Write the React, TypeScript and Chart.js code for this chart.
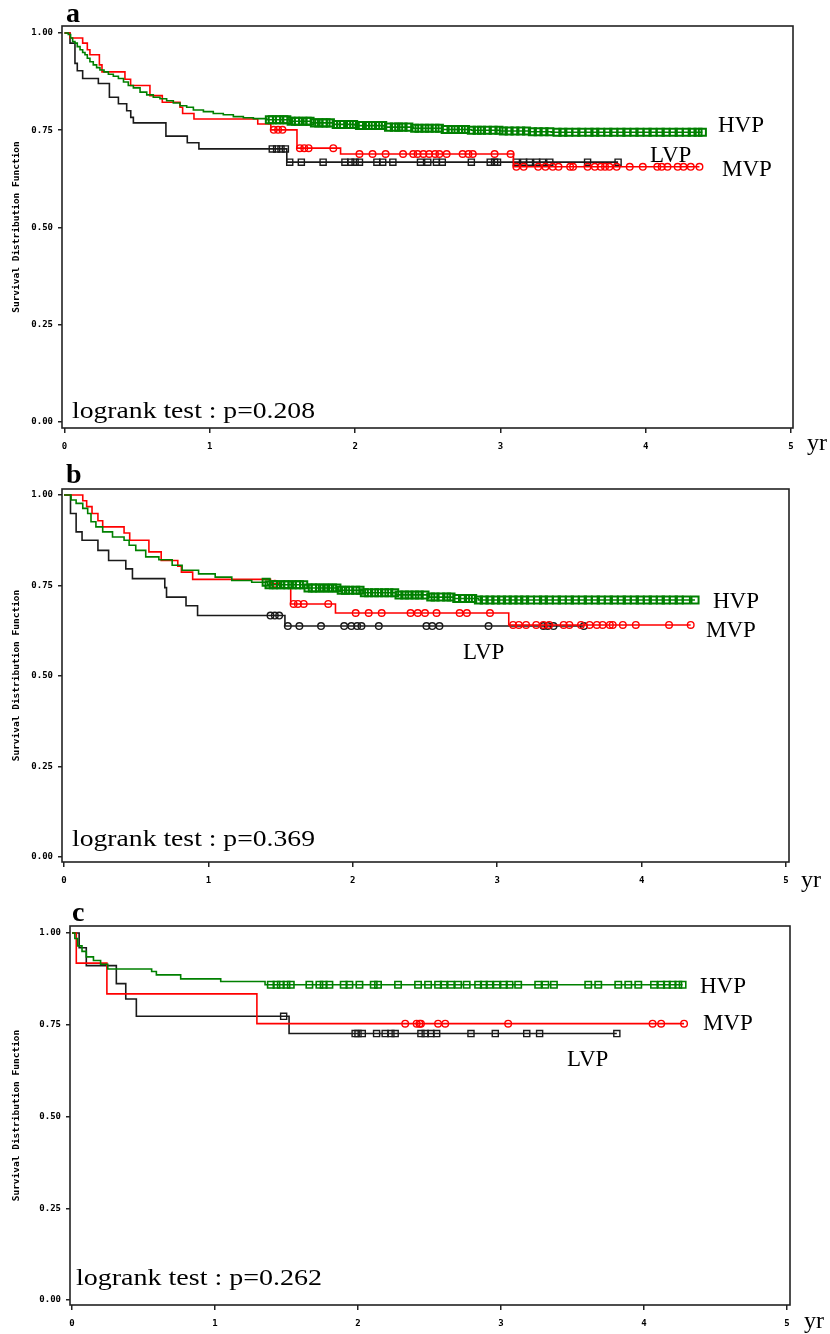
import React, { useEffect, useRef } from 'react';
import { Chart, registerables } from 'chart.js';
Chart.register(...registerables);

// ---------- shared axis data ----------
const X_TICKS = [0, 1, 2, 3, 4, 5];
const Y_TICKS = [0, 0.25, 0.5, 0.75, 1];
const Y_TITLE = 'Survival Distribution Function';
const X_UNIT = 'yr';
const TEST_LABEL = 'logrank test : p=';

// ---------- panel a ----------
const A_HVP_T = [0, 0.026, 0.042, 0.056, 0.072, 0.088, 0.107, 0.125, 0.141, 0.157, 0.175, 0.198, 0.221, 0.244, 0.272, 0.302, 0.336, 0.371, 0.406, 0.439, 0.474, 0.52, 0.566, 0.611, 0.657, 0.703, 0.749, 0.795, 0.841, 0.887, 0.956, 1.024, 1.093, 1.162, 1.231, 1.3, 1.392, 1.55, 1.7, 1.85, 2.0, 2.2, 2.4, 2.6, 2.8, 3.0, 3.2, 3.35, 4.39];
const A_HVP_S = [1, 0.996, 0.987, 0.978, 0.974, 0.965, 0.957, 0.95, 0.944, 0.935, 0.926, 0.918, 0.911, 0.905, 0.9, 0.894, 0.889, 0.883, 0.874, 0.865, 0.859, 0.848, 0.841, 0.835, 0.831, 0.826, 0.82, 0.813, 0.809, 0.802, 0.798, 0.793, 0.79, 0.785, 0.782, 0.78, 0.777, 0.773, 0.769, 0.765, 0.762, 0.758, 0.755, 0.752, 0.75, 0.748, 0.746, 0.745, 0.745];
const A_HVP_CENS = [1.41, 1.43, 1.46, 1.48, 1.51, 1.53, 1.56, 1.59, 1.61, 1.64, 1.67, 1.69, 1.72, 1.75, 1.78, 1.8, 1.83, 1.87, 1.9, 1.92, 1.96, 1.99, 2.03, 2.05, 2.09, 2.12, 2.16, 2.19, 2.23, 2.27, 2.3, 2.33, 2.37, 2.41, 2.44, 2.48, 2.51, 2.55, 2.58, 2.62, 2.66, 2.69, 2.73, 2.76, 2.8, 2.84, 2.87, 2.91, 2.95, 2.99, 3.02, 3.06, 3.1, 3.14, 3.18, 3.22, 3.26, 3.3, 3.34, 3.39, 3.43, 3.47, 3.52, 3.56, 3.61, 3.65, 3.69, 3.74, 3.78, 3.83, 3.87, 3.92, 3.96, 4.01, 4.05, 4.1, 4.14, 4.19, 4.23, 4.28, 4.32, 4.36, 4.39];
const A_MVP_T = [0, 0.038, 0.125, 0.157, 0.175, 0.24, 0.258, 0.416, 0.455, 0.588, 0.673, 0.795, 0.813, 0.891, 1.33, 1.42, 1.6, 1.9, 3.09, 4.37];
const A_MVP_S = [1, 0.987, 0.974, 0.957, 0.944, 0.918, 0.9, 0.881, 0.865, 0.839, 0.822, 0.809, 0.793, 0.779, 0.766, 0.751, 0.704, 0.689, 0.656, 0.656];
const A_MVP_CENS = [1.44, 1.47, 1.5, 1.62, 1.65, 1.68, 1.85, 2.03, 2.12, 2.21, 2.33, 2.4, 2.43, 2.47, 2.51, 2.55, 2.58, 2.63, 2.74, 2.78, 2.81, 2.96, 3.07, 3.11, 3.16, 3.26, 3.31, 3.36, 3.4, 3.48, 3.5, 3.6, 3.65, 3.69, 3.72, 3.75, 3.8, 3.89, 3.98, 4.08, 4.11, 4.15, 4.22, 4.26, 4.31, 4.37];
const A_LVP_T = [0, 0.038, 0.072, 0.088, 0.125, 0.233, 0.309, 0.371, 0.428, 0.456, 0.474, 0.698, 0.845, 0.925, 1.53, 3.81];
const A_LVP_S = [1, 0.974, 0.922, 0.903, 0.883, 0.87, 0.835, 0.818, 0.8, 0.783, 0.769, 0.735, 0.718, 0.702, 0.668, 0.668];
const A_LVP_CENS = [1.43, 1.46, 1.49, 1.52, 1.55, 1.63, 1.78, 1.93, 1.97, 2.0, 2.03, 2.15, 2.19, 2.26, 2.45, 2.5, 2.56, 2.6, 2.8, 2.93, 2.96, 2.98, 3.11, 3.16, 3.2, 3.25, 3.29, 3.34, 3.6, 3.81];
const A_P = '0.208';

// ---------- panel b ----------
const B_HVP_T = [0, 0.049, 0.084, 0.13, 0.164, 0.187, 0.221, 0.268, 0.336, 0.416, 0.451, 0.497, 0.566, 0.657, 0.749, 0.818, 0.932, 1.047, 1.162, 1.3, 1.41, 1.69, 1.9, 2.07, 2.3, 2.53, 2.7, 2.87, 4.37];
const B_HVP_S = [1, 0.986, 0.977, 0.963, 0.949, 0.926, 0.912, 0.898, 0.884, 0.875, 0.861, 0.847, 0.829, 0.821, 0.806, 0.792, 0.782, 0.773, 0.764, 0.759, 0.752, 0.743, 0.737, 0.73, 0.724, 0.718, 0.714, 0.71, 0.71];
const B_HVP_CENS = [1.4, 1.42, 1.45, 1.47, 1.5, 1.53, 1.55, 1.58, 1.61, 1.63, 1.66, 1.69, 1.72, 1.74, 1.77, 1.8, 1.83, 1.86, 1.89, 1.92, 1.95, 1.98, 2.02, 2.05, 2.08, 2.11, 2.15, 2.18, 2.22, 2.25, 2.29, 2.32, 2.36, 2.39, 2.43, 2.46, 2.5, 2.54, 2.57, 2.61, 2.65, 2.68, 2.72, 2.76, 2.8, 2.83, 2.87, 2.91, 2.95, 2.99, 3.03, 3.07, 3.11, 3.15, 3.19, 3.23, 3.28, 3.32, 3.36, 3.41, 3.45, 3.5, 3.54, 3.59, 3.63, 3.68, 3.72, 3.77, 3.81, 3.86, 3.9, 3.95, 3.99, 4.04, 4.08, 4.13, 4.17, 4.22, 4.26, 4.31, 4.37];
const B_MVP_T = [0, 0.13, 0.157, 0.194, 0.235, 0.268, 0.416, 0.455, 0.588, 0.673, 0.788, 0.813, 0.891, 1.43, 1.5, 1.57, 1.88, 3.08, 4.34];
const B_MVP_S = [1, 0.984, 0.968, 0.949, 0.929, 0.912, 0.895, 0.875, 0.843, 0.819, 0.803, 0.787, 0.767, 0.755, 0.743, 0.699, 0.674, 0.641, 0.641];
const B_MVP_CENS = [1.46, 1.59, 1.62, 1.66, 1.83, 2.02, 2.11, 2.2, 2.4, 2.45, 2.5, 2.58, 2.74, 2.79, 2.95, 3.11, 3.15, 3.2, 3.27, 3.32, 3.36, 3.46, 3.5, 3.58, 3.64, 3.69, 3.73, 3.78, 3.8, 3.87, 3.96, 4.19, 4.34];
const B_LVP_T = [0, 0.045, 0.084, 0.125, 0.235, 0.309, 0.428, 0.474, 0.698, 0.71, 0.845, 0.925, 1.53, 3.6];
const B_LVP_S = [1, 0.949, 0.898, 0.875, 0.847, 0.819, 0.796, 0.769, 0.744, 0.718, 0.694, 0.667, 0.638, 0.638];
const B_LVP_CENS = [1.43, 1.46, 1.49, 1.55, 1.63, 1.78, 1.94, 1.99, 2.03, 2.06, 2.18, 2.51, 2.55, 2.6, 2.94, 3.32, 3.35, 3.39, 3.6];
const B_P = '0.369';

// ---------- panel c ----------
const C_HVP_T = [0, 0.02, 0.04, 0.07, 0.1, 0.15, 0.2, 0.25, 0.557, 0.59, 0.76, 1.04, 1.35, 4.27];
const C_HVP_S = [1, 0.985, 0.965, 0.95, 0.935, 0.925, 0.915, 0.902, 0.895, 0.886, 0.875, 0.868, 0.859, 0.859];
const C_HVP_CENS = [1.39, 1.43, 1.46, 1.5, 1.53, 1.66, 1.73, 1.76, 1.8, 1.9, 1.94, 2.01, 2.11, 2.14, 2.28, 2.42, 2.49, 2.56, 2.6, 2.65, 2.7, 2.76, 2.84, 2.88, 2.92, 2.97, 3.02, 3.06, 3.12, 3.26, 3.31, 3.37, 3.61, 3.68, 3.82, 3.89, 3.96, 4.07, 4.12, 4.16, 4.2, 4.24, 4.27];
const C_MVP_T = [0, 0.03, 0.244, 1.293, 4.28];
const C_MVP_S = [1, 0.918, 0.834, 0.753, 0.753];
const C_MVP_CENS = [2.33, 2.41, 2.43, 2.44, 2.56, 2.61, 3.05, 4.06, 4.12, 4.28];
const C_LVP_T = [0, 0.05, 0.1, 0.31, 0.376, 0.45, 1.518, 3.81];
const C_LVP_S = [1, 0.96, 0.911, 0.862, 0.82, 0.773, 0.726, 0.726];
const C_LVP_CENS = [1.48, 1.98, 2.0, 2.03, 2.13, 2.19, 2.23, 2.26, 2.44, 2.47, 2.51, 2.55, 2.79, 2.96, 3.18, 3.27, 3.81];
const C_P = '0.262';

// ---------- styles ----------
const GREEN = '#008000';
const RED = '#ff0000';
const BLACK = '#1a1a1a';
const AXIS = '#222222';
const W = 830;

type Series = { T: number[]; S: number[]; C: number[]; color: string; marker: string; r: number; bw: number };
type Txt = { text: string; x: number; y: number; font: string; width?: number };
type PanelCfg = {
  top: number; h: number;
  box: { l: number; t: number; r: number; b: number };
  x0: number; x5: number; y1: number; y0: number;
  series: Series[];
  texts: Txt[];
};

const survAt = (T: number[], S: number[], t: number) => {
  let s = S[0];
  for (let i = 0; i < T.length; i++) if (T[i] <= t) s = S[i];
  return s;
};

const LBL = '23px "Liberation Serif"';
const LETTER = 'bold 28px "Liberation Serif"';
const YR = '24px "Liberation Serif"';
const LR = '24px "Liberation Serif"';

const PANELS: PanelCfg[] = [
  {
    top: 0, h: 460,
    box: { l: 62, t: 26, r: 793, b: 428 },
    x0: 64.5, x5: 791, y1: 33, y0: 422,
    series: [
      { T: A_HVP_T, S: A_HVP_S, C: A_HVP_CENS, color: GREEN, marker: 'rect', r: 5, bw: 2 },
      { T: A_MVP_T, S: A_MVP_S, C: A_MVP_CENS, color: RED, marker: 'circle', r: 3.3, bw: 1.4 },
      { T: A_LVP_T, S: A_LVP_S, C: A_LVP_CENS, color: BLACK, marker: 'rect', r: 4.3, bw: 1.4 },
    ],
    texts: [
      { text: 'a', x: 66, y: 22, font: LETTER },
      { text: X_UNIT, x: 807, y: 450, font: YR },
      { text: 'HVP', x: 718, y: 132, font: LBL },
      { text: 'LVP', x: 650, y: 162, font: LBL },
      { text: 'MVP', x: 722, y: 176, font: LBL },
      { text: TEST_LABEL + A_P, x: 72, y: 418, font: LR, width: 243 },
    ],
  },
  {
    top: 460, h: 440,
    box: { l: 62, t: 489, r: 789, b: 862 },
    x0: 64, x5: 786, y1: 495, y0: 857,
    series: [
      { T: B_HVP_T, S: B_HVP_S, C: B_HVP_CENS, color: GREEN, marker: 'rect', r: 5, bw: 2 },
      { T: B_MVP_T, S: B_MVP_S, C: B_MVP_CENS, color: RED, marker: 'circle', r: 3.3, bw: 1.4 },
      { T: B_LVP_T, S: B_LVP_S, C: B_LVP_CENS, color: BLACK, marker: 'circle', r: 3.3, bw: 1.4 },
    ],
    texts: [
      { text: 'b', x: 66, y: 483, font: LETTER },
      { text: X_UNIT, x: 801, y: 887, font: YR },
      { text: 'HVP', x: 713, y: 608, font: LBL },
      { text: 'MVP', x: 706, y: 637, font: LBL },
      { text: 'LVP', x: 463, y: 659, font: LBL },
      { text: TEST_LABEL + B_P, x: 72, y: 846, font: LR, width: 243 },
    ],
  },
  {
    top: 900, h: 434,
    box: { l: 70, t: 926, r: 790, b: 1305 },
    x0: 72, x5: 787, y1: 933, y0: 1300,
    series: [
      { T: C_HVP_T, S: C_HVP_S, C: C_HVP_CENS, color: GREEN, marker: 'rect', r: 4.5, bw: 1.6 },
      { T: C_MVP_T, S: C_MVP_S, C: C_MVP_CENS, color: RED, marker: 'circle', r: 3.3, bw: 1.4 },
      { T: C_LVP_T, S: C_LVP_S, C: C_LVP_CENS, color: BLACK, marker: 'rect', r: 4.3, bw: 1.4 },
    ],
    texts: [
      { text: 'c', x: 72, y: 921, font: LETTER },
      { text: X_UNIT, x: 804, y: 1328, font: YR },
      { text: 'HVP', x: 700, y: 993, font: LBL },
      { text: 'MVP', x: 703, y: 1030, font: LBL },
      { text: 'LVP', x: 567, y: 1066, font: LBL },
      { text: TEST_LABEL + C_P, x: 76, y: 1285, font: LR, width: 246 },
    ],
  },
];

function KMPanel({ cfg }: { cfg: PanelCfg }) {
  const ref = useRef<HTMLCanvasElement>(null);
  useEffect(() => {
    if (!ref.current) return;
    const { top, h, box } = cfg;
    const pxYr = (cfg.x5 - cfg.x0) / 5;
    const pxU = cfg.y0 - cfg.y1;
    const xMin = (box.l - cfg.x0) / pxYr;
    const xMax = 5 + (box.r - cfg.x5) / pxYr;
    const yMax = 1 + (cfg.y1 - box.t) / pxU;
    const yMin = -(box.b - cfg.y0) / pxU;

    const datasets: any[] = [];
    cfg.series.forEach((s) => {
      datasets.push({
        data: s.T.map((t, i) => ({ x: t, y: s.S[i] })),
        borderColor: s.color, borderWidth: 1.6, stepped: 'before',
        pointRadius: 0, fill: false, tension: 0,
      });
      datasets.push({
        data: s.C.map((t) => ({ x: t, y: survAt(s.T, s.S, t) })),
        showLine: false, pointStyle: s.marker,
        pointRadius: s.r,
        pointBorderWidth: s.bw, pointBorderColor: s.color,
        pointBackgroundColor: 'rgba(255,255,255,0)', borderColor: s.color,
      });
    });

    const tickFont = { family: '"DejaVu Sans Mono"', size: 9, weight: 'bold' as const };
    const plugin = {
      id: 'kmDecor',
      afterDraw(chart: any) {
        const { ctx, chartArea: ca } = chart;
        ctx.save();
        ctx.strokeStyle = AXIS;
        ctx.lineWidth = 1.6;
        ctx.strokeRect(ca.left, ca.top, ca.right - ca.left, ca.bottom - ca.top);
        ctx.fillStyle = '#000';
        ctx.textAlign = 'left';
        ctx.textBaseline = 'alphabetic';
        cfg.texts.forEach((t) => {
          ctx.font = t.font;
          if (t.width) {
            const m = ctx.measureText(t.text).width;
            ctx.save();
            ctx.translate(t.x, t.y - top);
            ctx.scale(t.width / m, 1);
            ctx.fillText(t.text, 0, 0);
            ctx.restore();
          } else {
            ctx.fillText(t.text, t.x, t.y - top);
          }
        });
        ctx.restore();
      },
    };

    const chart = new Chart(ref.current, {
      type: 'line',
      data: { datasets },
      plugins: [plugin],
      options: {
        responsive: false,
        animation: false,
        events: [],
        layout: { padding: { left: 0, right: W - box.r, top: box.t - top, bottom: 0 } },
        plugins: { legend: { display: false }, tooltip: { enabled: false } },
        scales: {
          x: {
            type: 'linear', min: xMin, max: xMax,
            afterBuildTicks: (s: any) => { s.ticks = X_TICKS.map((v) => ({ value: v })); },
            afterFit: (s: any) => { s.height = top + h - box.b; },
            ticks: { autoSkip: false, maxRotation: 0, padding: 8, color: '#000', font: tickFont, callback: (v: any) => String(v) },
            grid: { display: true, drawOnChartArea: false, drawTicks: true, tickLength: 5, color: AXIS, lineWidth: 1.5 },
            border: { display: false },
          },
          y: {
            type: 'linear', min: yMin, max: yMax,
            afterBuildTicks: (s: any) => { s.ticks = Y_TICKS.map((v) => ({ value: v })); },
            afterFit: (s: any) => { s.width = box.l; },
            ticks: { padding: 5, color: '#000', font: tickFont, callback: (v: any) => Number(v).toFixed(2) },
            grid: { display: true, drawOnChartArea: false, drawTicks: true, tickLength: 4, color: AXIS, lineWidth: 1.5 },
            border: { display: false },
            title: { display: true, text: Y_TITLE, color: '#000', font: { family: '"DejaVu Sans Mono"', size: 9.5, weight: 'bold' }, padding: { top: 11, bottom: 0 } },
          },
        },
      } as any,
    });
    return () => chart.destroy();
  }, [cfg]);
  return (
    <canvas
      ref={ref}
      width={W}
      height={cfg.h}
      style={{ position: 'absolute', left: 0, top: cfg.top, width: W, height: cfg.h, display: 'block' }}
    />
  );
}

export default function App() {
  return (
    <div style={{ position: 'absolute', left: 0, top: 0, width: W, height: 1334, background: '#fff', overflow: 'hidden' }}>
      {PANELS.map((p, i) => (
        <KMPanel key={i} cfg={p} />
      ))}
    </div>
  );
}
